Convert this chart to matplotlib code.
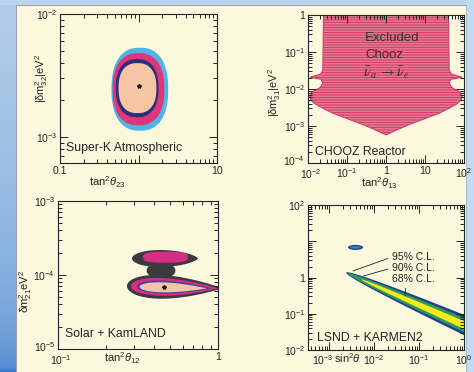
import numpy as np
import matplotlib
matplotlib.use("Agg")
import matplotlib.pyplot as plt
from matplotlib.patches import Polygon, Rectangle
from matplotlib.ticker import FixedLocator, FixedFormatter, LogLocator, NullFormatter
from matplotlib.transforms import ScaledTranslation

plt.rcParams.update({
    "font.family": ["Liberation Sans", "DejaVu Sans"],
    "mathtext.fontset": "custom",
    "mathtext.rm": "Liberation Sans",
    "mathtext.it": "Liberation Sans:italic",
    "mathtext.bf": "Liberation Sans:bold",
    "hatch.linewidth": 0.9,
})

# ---------------- Super-K atmospheric (outer -> inner regions) ----------------
atm_tan2_centre = [1.04, 1.0, 0.96, 0.97]
atm_tan2_halfdec = [0.361, 0.329, 0.272, 0.241]
atm_dm2_centre = [2.45e-3, 2.45e-3, 2.5e-3, 2.5e-3]
atm_dm2_halfdec = [0.337, 0.293, 0.236, 0.203]
atm_colors = ["#4fb4e6", "#df3579", "#2c2f7c", "#f6c6a4"]
atm_best = (1.0, 2.6e-3)
atm_xticks, atm_xticklabels = [0.1, 1, 10], ["0.1", "", "10"]
atm_yticks, atm_yticklabels = [1e-3, 1e-2], [r"$10^{-3}$", r"$10^{-2}$"]

# ---------------- CHOOZ exclusion: left edge (right edge mirrored about tan^2 = 1) ----
chooz_dm2 = [1.3, 10**-1.50, 10**-1.60, 10**-1.68, 10**-1.74, 10**-1.85, 10**-1.97,
             10**-2.08, 10**-2.20, 10**-2.30, 10**-2.40, 10**-2.52, 10**-2.66,
             10**-2.80, 10**-2.93, 10**-3.08, 10**-3.24]
chooz_tan2_left = [10**-1.60, 10**-1.62, 10**-1.68, 10**-1.95, 10**-1.66, 10**-1.62,
                   10**-1.70, 10**-1.90, 10**-1.95, 10**-1.93, 10**-1.82, 10**-1.62,
                   10**-1.35, 10**-1.00, 10**-0.67, 10**-0.33, 1.0]
chooz_xticks = [1e-2, 1e-1, 1, 10, 100]
chooz_xticklabels = [r"$10^{-2}$", r"$10^{-1}$", "1", "10", r"$10^{2}$"]
chooz_yticks = [1e-4, 1e-3, 1e-2, 1e-1, 1]
chooz_yticklabels = [r"$10^{-4}$", r"$10^{-3}$", r"$10^{-2}$", r"$10^{-1}$", "1"]

# ---------------- Solar + KamLAND ----------------
# lower (LMA) teardrops, outer -> inner
sol_low_left = [10**-0.569, 10**-0.544, 10**-0.506, 10**-0.49]
sol_low_tip = [10**0.03, 10**0.0, 10**-0.04, 10**-0.07]
sol_low_mid = [10**-4.15, 10**-4.15, 10**-4.155, 10**-4.16]
sol_low_tipy = [10**-4.18, 10**-4.18, 10**-4.18, 10**-4.18]
sol_low_half = [0.16, 0.12, 0.088, 0.068]
sol_colors = ["#3b3b3f", "#d92c86", "#3c44a6", "#f3c4a6"]
# upper island (outer, inner) and the joining neck of the outer region
sol_up_left, sol_up_tip = 10**-0.5375, 10**-0.125
sol_up_mid, sol_up_half = 10**-3.777, 0.115
sol_up_in_centre = (10**-0.328, 10**-3.76)
sol_up_in_half = (0.141, 0.074)
sol_neck_centre = (10**-0.356, 10**-3.94)
sol_neck_half = (0.09, 0.11)
sol_best = (0.46, 6.9e-5)
sol_xticks, sol_xticklabels = [0.1, 1], [r"$10^{-1}$", "1"]
sol_yticks, sol_yticklabels = [1e-5, 1e-4, 1e-3], [r"$10^{-5}$", r"$10^{-4}$", r"$10^{-3}$"]

# ---------------- LSND + KARMEN2 ----------------
lsnd_cl = ["95% C.L.", "90% C.L.", "68% C.L."]
lsnd_tip = [-2.62, -2.58, -2.28]          # log10 sin^2 at the band's end
lsnd_halfwidth = [0.28, 0.20, 0.11]       # half-width (decades of dm^2) at sin^2 = 1
lsnd_colors = ["#22408f", "#2e9a57", "#f6ea1e"]
lsnd_axis_at_1 = -1.31                    # log10 dm^2 of band axis at sin^2 = 1
lsnd_slope = -0.55
lsnd_island_centre = (10**-2.41, 10**0.83)
lsnd_island_half = [(0.167, 0.07), (0.12, 0.035)]
lsnd_island_colors = ["#22408f", "#2a8f9c"]
lsnd_label_targets = [(10**-2.47, 10**0.18), (10**-2.24, 10**0.04), (10**-1.31, 10**-0.51)]
lsnd_xticks = [1e-3, 1e-2, 1e-1, 1]
lsnd_xticklabels = [r"$10^{-3}$", r"$10^{-2}$", r"$10^{-1}$", r"$10^{0}$"]
lsnd_yticks = [1e-2, 1e-1, 1, 10, 100]
lsnd_yticklabels = [r"$10^{-2}$", r"$10^{-1}$", "1", "", r"$10^{2}$"]

CREAM = "#fcf8dd"
INK = "#222222"
W, H = 474, 372
LABEL_FS = 8.8


def superellipse(centre, half, p=2.0, n=300):
    t = np.linspace(0, 2 * np.pi, n)
    c, s = np.cos(t), np.sin(t)
    lx = np.log10(centre[0]) + half[0] * np.sign(c) * np.abs(c) ** (2 / p)
    ly = np.log10(centre[1]) + half[1] * np.sign(s) * np.abs(s) ** (2 / p)
    return np.column_stack([10 ** lx, 10 ** ly])


def teardrop(x_left, x_tip, y_mid, y_tip, half, m=1.0, n=400):
    t = np.linspace(0, 2 * np.pi, n)
    X = np.cos(t)
    Y = np.sin(t) * np.abs(np.sin(t / 2)) ** m
    Y = Y / np.abs(Y).max()
    u = (X + 1) / 2
    lx = np.log10(x_left) + u * (np.log10(x_tip) - np.log10(x_left))
    ly = np.log10(y_mid) + u * (np.log10(y_tip) - np.log10(y_mid)) + half * Y
    return np.column_stack([10 ** lx, 10 ** ly])


def lsnd_band(tip, wmax, n=300):
    lx = np.linspace(tip, 0.3, n)
    w = wmax * np.sqrt(np.clip((lx - tip) / (0 - tip), 0, None))
    axis = lsnd_axis_at_1 + lsnd_slope * lx
    xs = np.concatenate([lx, lx[::-1]])
    ys = np.concatenate([axis + w, (axis - w)[::-1]])
    return np.column_stack([10 ** xs, 10 ** ys])


def px_axes(l, t, r, b):
    return fig.add_axes([l / W, 1 - b / H, (r - l) / W, (b - t) / H])


def style(ax, xlim, ylim, xt, xtl, yt, ytl):
    ax.set_xscale("log")
    ax.set_yscale("log")
    ax.set_xlim(xlim)
    ax.set_ylim(ylim)
    ax.set_facecolor(CREAM)
    for axis, t, tl in ((ax.xaxis, xt, xtl), (ax.yaxis, yt, ytl)):
        axis.set_major_locator(FixedLocator(t))
        axis.set_major_formatter(FixedFormatter(tl))
        axis.set_minor_locator(LogLocator(base=10, subs=np.arange(2, 10), numticks=50))
        axis.set_minor_formatter(NullFormatter())
    ax.tick_params(which="both", direction="in", top=True, right=True,
                   labelsize=7.5, width=0.7, color=INK, labelcolor=INK)
    ax.tick_params(which="major", length=5.5, pad=2)
    ax.tick_params(which="minor", length=2.8)
    for sp in ax.spines.values():
        sp.set_linewidth(0.8)
        sp.set_color(INK)


def nudge(label, dx_px, dy_px):
    label.set_transform(label.get_transform()
                        + ScaledTranslation(dx_px / 100, dy_px / 100, fig.dpi_scale_trans))


fig = plt.figure(figsize=(W / 100, H / 100), dpi=100)
fig.patch.set_facecolor(CREAM)

# page background: blue margins around the cream panel
bg = fig.add_axes([0, 0, 1, 1], zorder=-10)
bg.set_xlim(0, W)
bg.set_ylim(H, 0)
bg.axis("off")
grad = np.linspace(0, 1, 200)[:, None, None]
top_c = np.array([178, 206, 234]) / 255
bot_c = np.array([56, 122, 202]) / 255
mix = 1 - (1 - grad) ** 0.35
strip = top_c[None, None, :] * (1 - mix) + bot_c[None, None, :] * mix
bg.imshow(strip, extent=(0, 15.5, H, 0), aspect="auto")
bg.add_patch(Rectangle((0, 0), W, 4.5, color="#bcd5ee", lw=0))
bg.add_patch(Rectangle((466, 0), 8, H, color="#c3daf0", lw=0))
bg.plot([16, 16], [4.5, H], color="#8a8f98", lw=0.6)
bg.plot([16, 466], [4.5, 4.5], color="#8a8f98", lw=0.6)
bg.plot([466, 466], [4.5, H], color="#9fb6cf", lw=0.6)

# ---------------- panel 1: Super-K atmospheric ----------------
ax1 = px_axes(60, 14, 217, 163)
style(ax1, (0.1, 10), (10**-3.21, 1e-2), atm_xticks, atm_xticklabels, atm_yticks, atm_yticklabels)
for cx, hx, cy, hy, col in zip(atm_tan2_centre, atm_tan2_halfdec, atm_dm2_centre,
                               atm_dm2_halfdec, atm_colors):
    ax1.add_patch(Polygon(superellipse((cx, cy), (hx, hy), p=2.4), closed=True,
                          facecolor=col, edgecolor="none"))
ax1.plot(*atm_best, marker="*", ms=3, color="#111111")
ax1.text(0.04, 0.10, "Super-K Atmospheric", transform=ax1.transAxes, fontsize=LABEL_FS,
         va="center", ha="left", color=INK)
ax1.text(0.30, -0.158, r"tan$^2\theta_{23}$", transform=ax1.transAxes, fontsize=8,
         ha="center", va="baseline", color=INK)
ax1.text(-0.118, 0.57, r"|δm$^2_{32}$|eV$^2$", transform=ax1.transAxes, fontsize=8,
         rotation=90, ha="center", va="center", color=INK)

# ---------------- panel 2: CHOOZ reactor ----------------
ax2 = px_axes(308, 15, 464, 163)
style(ax2, (1e-2, 1e2), (1e-4, 1), chooz_xticks, chooz_xticklabels, chooz_yticks, chooz_yticklabels)
left_edge = np.column_stack([chooz_tan2_left, chooz_dm2])
right_edge = np.column_stack([1.0 / np.array(chooz_tan2_left), chooz_dm2])[::-1]
ax2.add_patch(Polygon(np.vstack([left_edge, right_edge]), closed=True,
                      facecolor="#f3cfd0", edgecolor="#d63d68", hatch="----------", lw=0.8))
ax2.text(0.365, 0.845, "Excluded", transform=ax2.transAxes, fontsize=9.5, va="center",
         color="#333333")
ax2.text(0.365, 0.73, "Chooz", transform=ax2.transAxes, fontsize=9.5, va="center",
         color="#333333")
ax2.text(0.355, 0.61, r"$\bar{\nu}_a \;\rightarrow \bar{\nu}_e$", transform=ax2.transAxes,
         fontsize=10.5, va="center", color="#333333", math_fontfamily="stix")
ax2.text(0.045, 0.074, "CHOOZ Reactor", transform=ax2.transAxes, fontsize=LABEL_FS,
         va="center", ha="left", color=INK)
ax2.text(0.46, -0.162, r"tan$^2\theta_{13}$", transform=ax2.transAxes, fontsize=8,
         ha="center", va="baseline", color=INK)
ax2.text(-0.215, 0.48, r"|δm$^2_{31}$|eV$^2$", transform=ax2.transAxes, fontsize=8,
         rotation=90, ha="center", va="center", color=INK)
# keep the corner tick labels apart
nudge(ax2.yaxis.get_major_ticks()[0].label1, 0, 3)
nudge(ax2.xaxis.get_major_ticks()[0].label1, 3, -1)

# ---------------- panel 3: Solar + KamLAND ----------------
ax3 = px_axes(58, 201, 218, 349)
style(ax3, (0.1, 1), (1e-5, 1e-3), sol_xticks, sol_xticklabels, sol_yticks, sol_yticklabels)
ax3.add_patch(Polygon(teardrop(sol_up_left, sol_up_tip, sol_up_mid, sol_up_mid, sol_up_half, m=0.35),
                      closed=True, facecolor=sol_colors[0], edgecolor="none"))
ax3.add_patch(Polygon(superellipse(sol_neck_centre, sol_neck_half, p=2.0), closed=True,
                      facecolor=sol_colors[0], edgecolor="none"))
ax3.add_patch(Polygon(superellipse(sol_up_in_centre, sol_up_in_half, p=3.0), closed=True,
                      facecolor=sol_colors[1], edgecolor="none"))
for xl, xt, ym, yt, hh, col in zip(sol_low_left, sol_low_tip, sol_low_mid, sol_low_tipy,
                                   sol_low_half, sol_colors):
    ax3.add_patch(Polygon(teardrop(xl, xt, ym, yt, hh, m=1.0), closed=True,
                          facecolor=col, edgecolor="none"))
ax3.plot(*sol_best, marker="*", ms=3, color="#111111")
ax3.text(0.044, 0.10, "Solar + KamLAND", transform=ax3.transAxes, fontsize=LABEL_FS,
         va="center", ha="left", color=INK)
ax3.text(0.40, -0.088, r"tan$^2\theta_{12}$", transform=ax3.transAxes, fontsize=8,
         ha="center", va="baseline", color=INK)
ax3.text(-0.205, 0.39, r"δm$^2_{21}$eV$^2$", transform=ax3.transAxes, fontsize=8,
         rotation=90, ha="center", va="center", color=INK)
nudge(ax3.yaxis.get_major_ticks()[0].label1, 0, 3)
nudge(ax3.xaxis.get_major_ticks()[0].label1, 3, -1)

# ---------------- panel 4: LSND + KARMEN2 ----------------
ax4 = px_axes(308, 205, 464, 350)
style(ax4, (10**-3.467, 1), (1e-2, 1e2), lsnd_xticks, lsnd_xticklabels, lsnd_yticks, lsnd_yticklabels)
for tip, wmax, col in zip(lsnd_tip, lsnd_halfwidth, lsnd_colors):
    ax4.add_patch(Polygon(lsnd_band(tip, wmax), closed=True, facecolor=col, edgecolor="none"))
for half, col in zip(lsnd_island_half, lsnd_island_colors):
    ax4.add_patch(Polygon(superellipse(lsnd_island_centre, half, p=2.0), closed=True,
                          facecolor=col, edgecolor="none"))
label_pos = [(0.538, 0.641), (0.538, 0.566), (0.538, 0.49)]
rel = [(0.0, 0.5), (0.0, 0.5), (0.33, 0.0)]
for txt, xy, pos, rp in zip(lsnd_cl, lsnd_label_targets, label_pos, rel):
    ax4.annotate(txt, xy=xy, xycoords="data", xytext=pos, textcoords="axes fraction",
                 fontsize=7.5, va="center", ha="left", color=INK,
                 arrowprops=dict(arrowstyle="-", color=INK, lw=0.6,
                                 shrinkA=1, shrinkB=0, relpos=rp))
ax4.text(0.058, 0.083, "LSND + KARMEN2", transform=ax4.transAxes, fontsize=LABEL_FS,
         va="center", ha="left", color=INK)
ax4.text(0.255, -0.09, r"sin$^2\theta$", transform=ax4.transAxes, fontsize=8,
         ha="center", va="baseline", color=INK)
# nudge the first x tick label left to make room for the axis title
nudge(ax4.xaxis.get_major_ticks()[0].label1, -6, 0)

fig.savefig("out.png", dpi=100, facecolor=fig.get_facecolor())
